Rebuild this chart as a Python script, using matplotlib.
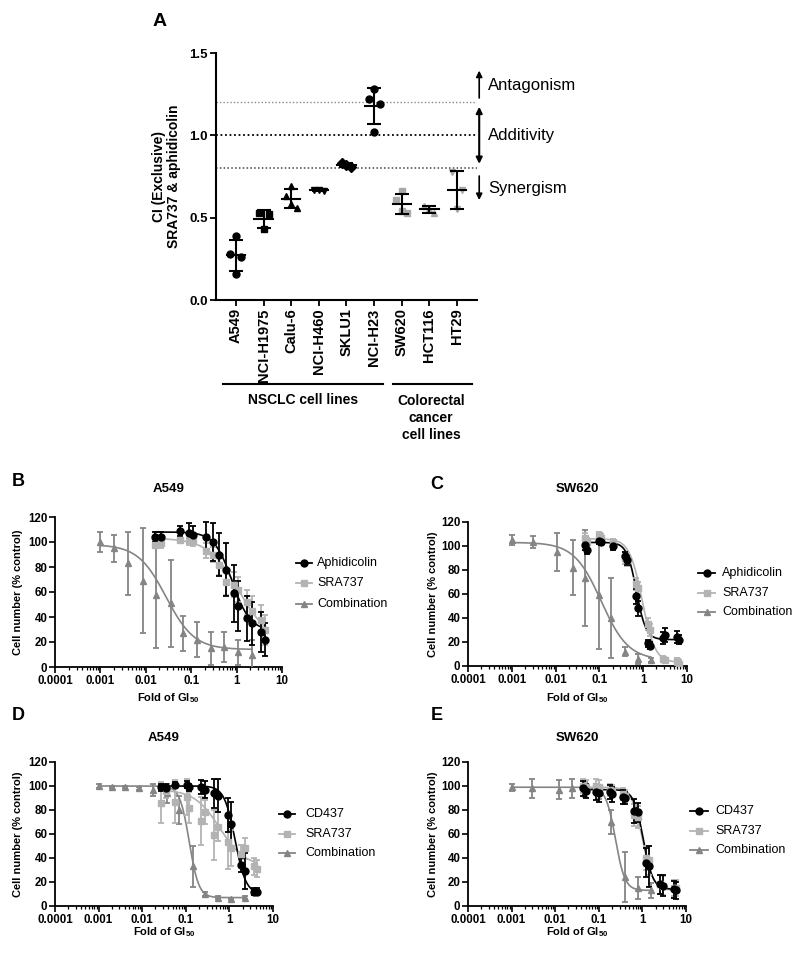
import numpy as np
import matplotlib
matplotlib.use('Agg')
import matplotlib.pyplot as plt
from matplotlib.lines import Line2D
from matplotlib.ticker import LogLocator, FixedLocator, NullFormatter, FixedFormatter

plt.rcParams['font.family'] = ['Liberation Sans', 'DejaVu Sans']
plt.rcParams['mathtext.fontset'] = 'custom'
plt.rcParams['mathtext.rm'] = 'Liberation Sans:bold'
plt.rcParams['mathtext.default'] = 'rm'

# ---------------- Panel A data ----------------
cell_lines = ['A549', 'NCI-H1975', 'Calu-6', 'NCI-H460', 'SKLU1', 'NCI-H23',
              'SW620', 'HCT116', 'HT29']
ci_a549 = [0.39, 0.28, 0.26, 0.16]
ci_h1975 = [0.53, 0.52, 0.43]
ci_calu6 = [0.69, 0.63, 0.56, 0.58]
ci_h460 = [0.67, 0.66, 0.67]
ci_sklu1 = [0.83, 0.81, 0.82]
ci_h23 = [1.28, 1.22, 1.19, 1.02]
ci_sw620 = [0.66, 0.61, 0.53, 0.54]
ci_hct116 = [0.57, 0.53, 0.55]
ci_ht29 = [0.78, 0.67, 0.55]
ci_values = [ci_a549, ci_h1975, ci_calu6, ci_h460, ci_sklu1, ci_h23,
             ci_sw620, ci_hct116, ci_ht29]
ci_thresholds = [0.8, 1.0, 1.2]

# ---------------- Panel B (A549, aphidicolin) ----------------
b_x = [0.016, 0.022, 0.057, 0.09, 0.109, 0.214, 0.296, 0.42, 0.58, 0.86, 1.05, 1.69, 2.22, 3.44, 4.29]
b_aph_y = [104, 104, 109, 107, 106, 104, 100, 90, 78, 59, 49, 39, 35, 28, 22]
b_aph_e = [4, 4, 4, 8, 7, 12, 15, 17, 21, 23, 20, 18, 17, 16, 13]
b_sra_y = [98, 99, 102, 102, 101, 93, 90, 82, 68, 66, 62, 52, 45, 38, 30]
b_sra_e = [3, 4, 3, 4, 4, 6, 6, 8, 10, 10, 10, 10, 12, 12, 12]
b_comb_x = [0.001, 0.002, 0.004, 0.0087, 0.017, 0.035, 0.066, 0.135, 0.27, 0.54, 1.1, 2.2]
b_comb_y = [100, 95, 83, 69, 58, 51, 27, 22, 15, 16, 12, 10]
b_comb_e = [8, 11, 25, 42, 43, 35, 14, 14, 13, 12, 10, 12]
b_fit_aph = [108, 29, 0.8, 2.2]
b_fit_sra = [103, 20, 1.1, 1.3]
b_fit_comb = [98, 14, 0.028, 1.4]

# ---------------- Panel C (SW620, aphidicolin) ----------------
c_x = [0.047, 0.053, 0.1, 0.107, 0.2, 0.39, 0.43, 0.70, 0.75, 1.3, 1.45, 2.9, 3.2, 6.0, 6.5]
c_aph_y = [101, 97, 104, 103, 100, 92, 88, 58, 48, 19, 17, 23, 26, 24, 22]
c_aph_e = [4, 4, 2, 2, 3, 3, 4, 6, 6, 3, 3, 5, 6, 5, 4]
c_sra_y = [107, 103, 109, 107, 103, 90, 88, 68, 65, 35, 30, 6, 5, 4, 2]
c_sra_e = [4, 4, 3, 3, 3, 5, 5, 5, 5, 5, 5, 2, 2, 3, 3]
c_comb_x = [0.001, 0.003, 0.011, 0.025, 0.047, 0.1, 0.18, 0.39, 0.76, 1.5]
c_comb_y = [105, 103, 95, 82, 73, 59, 40, 12, 6, 5]
c_comb_e = [4, 5, 16, 23, 40, 45, 33, 4, 4, 2]
c_fit_aph = [103, 22, 0.7, 4.0]
c_fit_sra = [106, 3, 0.95, 3.0]
c_fit_comb = [103, 5, 0.11, 1.4]

# ---------------- Panel D (A549, CD437) ----------------
d_x = [0.027, 0.035, 0.056, 0.105, 0.118, 0.22, 0.27, 0.45, 0.55, 0.92, 1.1, 1.87, 2.3, 3.6, 4.2]
d_cd_y = [99, 98, 101, 101, 99, 99, 97, 94, 92, 76, 68, 34, 29, 12, 12]
d_cd_e = [3, 4, 2, 3, 3, 6, 7, 12, 14, 14, 19, 6, 15, 3, 3]
d_sra_y = [86, 96, 87, 91, 82, 71, 78, 59, 66, 53, 48, 43, 48, 33, 31]
d_sra_e = [17, 6, 18, 15, 13, 20, 10, 21, 12, 22, 15, 8, 9, 7, 7]
d_comb_x = [0.001, 0.002, 0.004, 0.0085, 0.018, 0.037, 0.07, 0.145, 0.28, 0.55, 1.1, 2.3]
d_comb_y = [100, 99, 99, 98, 97, 94, 80, 33, 10, 7, 6, 7]
d_comb_e = [2, 1, 1, 1, 5, 8, 12, 17, 2, 1, 1, 1]
d_fit_cd = [100, 10, 1.35, 3.5]
d_fit_sra = [97, 33, 0.6, 1.5]
d_fit_comb = [100, 7, 0.12, 4.0]

# ---------------- Panel E (SW620, CD437) ----------------
e_x = [0.044, 0.05, 0.087, 0.1, 0.18, 0.2, 0.35, 0.39, 0.65, 0.8, 1.2, 1.4, 2.6, 2.9, 5.4, 5.9]
e_cd_y = [98, 96, 95, 94, 95, 93, 91, 90, 79, 78, 36, 33, 18, 17, 14, 13]
e_cd_e = [6, 6, 7, 7, 6, 6, 6, 5, 10, 8, 12, 17, 8, 9, 7, 7]
e_sra_y = [100, 99, 100, 99, 97, 96, 93, 92, 76, 74, 40, 38, 18, 17, 15, 15]
e_sra_e = [6, 6, 6, 6, 5, 5, 5, 5, 9, 9, 10, 12, 8, 8, 7, 7]
e_comb_x = [0.001, 0.003, 0.012, 0.024, 0.049, 0.1, 0.19, 0.4, 0.8, 1.6]
e_comb_y = [99, 98, 97, 98, 97, 95, 70, 24, 15, 13]
e_comb_e = [3, 8, 8, 8, 6, 6, 10, 21, 9, 6]
e_fit_cd = [97, 14, 1.05, 4.0]
e_fit_sra = [99, 13, 1.0, 3.5]
e_fit_comb = [99, 13, 0.24, 4.0]

x_tick_vals = [1e-4, 1e-3, 1e-2, 1e-1, 1, 10]
x_tick_labels = ['0.0001', '0.001', '0.01', '0.1', '1', '10']
y_tick_vals = [0, 20, 40, 60, 80, 100, 120]

BLACK = '#000000'
LIGHT = '#b3b3b3'
MID = '#858585'
GRAYA = '#a9a9a9'

W, H = 800, 957
fig = plt.figure(figsize=(W / 100, H / 100), dpi=100)


def rect(l, r, t, b):
    return [l / W, 1 - b / H, (r - l) / W, (b - t) / H]


def fx(px):
    return px / W


def fy(py):
    return 1 - py / H


# ================= Panel A =================
axA = fig.add_axes(rect(216, 477, 53, 300))
n = len(cell_lines)
pos = np.arange(n)
offsets = {4: [0.0, -0.2, 0.2, 0.0], 3: [-0.18, 0.18, 0.0]}
markers = ['o', 's', '^', 'v', 'D', 'o', 's', '^', 'v']
for i, vals in enumerate(ci_values):
    col = BLACK if i < 6 else GRAYA
    vals = np.array(vals)
    off = np.array(offsets[len(vals)])
    axA.plot(pos[i] + off, vals, ls='none', marker=markers[i], color=col,
             ms=5, zorder=3)
    m = vals.mean()
    s = vals.std(ddof=1)
    axA.plot([pos[i] - 0.33, pos[i] + 0.33], [m, m], color='k', lw=1.5, zorder=4)
    axA.errorbar([pos[i]], [m], yerr=[s], fmt='none', ecolor='k',
                 elinewidth=1.5, capsize=5, capthick=1.5, zorder=4)

axA.axhline(ci_thresholds[2], color='#8a8a8a', ls=(0, (1, 1.5)), lw=1.0, zorder=1)
axA.axhline(ci_thresholds[1], color='k', ls=(0, (1, 1.5)), lw=1.3, zorder=1)
axA.axhline(ci_thresholds[0], color='#444444', ls=(0, (1, 1.5)), lw=1.1, zorder=1)

axA.set_xlim(-0.72, 8.72)
axA.set_ylim(0, 1.5)
axA.set_yticks([0, 0.5, 1.0, 1.5])
axA.set_yticklabels(['0.0', '0.5', '1.0', '1.5'], fontsize=9.5, fontweight='bold')
axA.set_xticks(pos)
axA.set_xticklabels(cell_lines, rotation=90, fontsize=10.5, fontweight='bold')
for sp in ['top', 'right']:
    axA.spines[sp].set_visible(False)
for sp in ['left', 'bottom']:
    axA.spines[sp].set_linewidth(1.5)
axA.tick_params(direction='out', length=4, width=1.3, pad=2)
axA.set_ylabel('CI (Exclusive)\nSRA737 & aphidicolin', fontsize=10,
               fontweight='bold', labelpad=6, linespacing=1.1)

# arrows and region labels
arrow_x = 8.8
axA.annotate('', xy=(arrow_x, 1.41), xytext=(arrow_x, 1.21),
             arrowprops=dict(arrowstyle='-|>', color='k', lw=1.2, mutation_scale=9),
             annotation_clip=False)
axA.annotate('', xy=(arrow_x, 0.81), xytext=(arrow_x, 1.19),
             arrowprops=dict(arrowstyle='<|-|>', color='k', lw=1.5, mutation_scale=9),
             annotation_clip=False)
axA.annotate('', xy=(arrow_x, 0.59), xytext=(arrow_x, 0.77),
             arrowprops=dict(arrowstyle='-|>', color='k', lw=1.2, mutation_scale=9),
             annotation_clip=False)
axA.text(9.13, 1.30, 'Antagonism', fontsize=12, va='center', ha='left', clip_on=False)
axA.text(9.1, 1.0, 'Additivity', fontsize=12, va='center', ha='left', clip_on=False)
axA.text(9.13, 0.675, 'Synergism', fontsize=12, va='center', ha='left', clip_on=False)

# group brackets
fig.add_artist(Line2D([fx(223), fx(383)], [fy(384), fy(384)], color='k', lw=1.5,
                      transform=fig.transFigure))
fig.add_artist(Line2D([fx(393), fx(472)], [fy(384), fy(384)], color='k', lw=1.5,
                      transform=fig.transFigure))
fig.text(fx(303), fy(400), 'NSCLC cell lines', ha='center', va='center',
         fontsize=10, fontweight='bold')
fig.text(fx(431), fy(418), 'Colorectal\ncancer\ncell lines', ha='center', va='center',
         fontsize=10, fontweight='bold', linespacing=1.25)
fig.text(fx(160), fy(22), 'A', ha='center', va='center', fontsize=14, fontweight='bold')


# ================= Dose-response panels =================
def fit_curve(x, p):
    top, bot, ec, h = p
    xs = np.logspace(np.log10(min(x)), np.log10(max(x)), 300)
    return xs, bot + (top - bot) / (1 + (xs / ec) ** h)


def dose_panel(box, series, title, title_y, ylabel_x, xlabel_y):
    ax = fig.add_axes(rect(*box))
    for x, y, e, p, col, mk, ms in series:
        xs, ys = fit_curve(x, p)
        ax.plot(xs, ys, color=col, lw=1.2, zorder=2)
        ax.errorbar(x, y, yerr=e, fmt=mk, color=col, ecolor=col, ms=ms,
                    capsize=2.5, elinewidth=1.3, capthick=1.3, zorder=3)
    ax.set_xscale('log')
    ax.set_xlim(1e-4, 10)
    ax.set_ylim(0, 120)
    ax.xaxis.set_major_locator(FixedLocator(x_tick_vals))
    ax.xaxis.set_major_formatter(FixedFormatter(x_tick_labels))
    ax.xaxis.set_minor_locator(LogLocator(base=10, subs=np.arange(2, 10), numticks=20))
    ax.xaxis.set_minor_formatter(NullFormatter())
    ax.set_yticks(y_tick_vals)
    for lab in ax.get_xticklabels() + ax.get_yticklabels():
        lab.set_fontweight('bold')
        lab.set_fontsize(8.3)
    for sp in ['top', 'right']:
        ax.spines[sp].set_visible(False)
    for sp in ['left', 'bottom']:
        ax.spines[sp].set_linewidth(1.3)
    ax.tick_params(which='major', direction='out', length=4, width=1.2, pad=1.5)
    ax.tick_params(which='minor', direction='out', length=2.2, width=0.9)
    l, r, t, b = box
    fig.text(fx((l + r) / 2), fy(title_y), title, ha='center', va='center',
             fontsize=9.5, fontweight='bold')
    fig.text(fx(ylabel_x), fy((t + b) / 2), 'Cell number (% control)', rotation=90,
             ha='center', va='center', fontsize=8, fontweight='bold')
    fig.text(fx((l + r) / 2), fy(xlabel_y), 'Fold of GI$_{50}$', ha='center',
             va='top', fontsize=8, fontweight='bold')
    return ax


def legend(line_x0, line_x1, text_x, ys, entries):
    for (label, col, mk, ms), y in zip(entries, ys):
        fig.add_artist(Line2D([fx(line_x0), fx(line_x1)], [fy(y), fy(y)], color=col,
                              lw=1.3, transform=fig.transFigure))
        fig.add_artist(Line2D([fx((line_x0 + line_x1) / 2)], [fy(y)], color=col,
                              marker=mk, ms=ms, ls='none', transform=fig.transFigure))
        fig.text(fx(text_x), fy(y), label, ha='left', va='center', fontsize=9)


# B
dose_panel((55, 282, 517, 667),
           [(b_comb_x, b_comb_y, b_comb_e, b_fit_comb, MID, '^', 4),
            (b_x, b_sra_y, b_sra_e, b_fit_sra, LIGHT, 's', 4.5),
            (b_x, b_aph_y, b_aph_e, b_fit_aph, BLACK, 'o', 5)],
           'A549', 489, 18, 691)
legend(296, 312, 317, [563, 583, 604],
       [('Aphidicolin', BLACK, 'o', 5), ('SRA737', LIGHT, 's', 4.5),
        ('Combination', MID, '^', 4)])
fig.text(fx(18), fy(482), 'B', ha='center', va='center', fontsize=13, fontweight='bold')

# C
dose_panel((468, 687, 522, 666),
           [(c_comb_x, c_comb_y, c_comb_e, c_fit_comb, MID, '^', 4),
            (c_x, c_sra_y, c_sra_e, c_fit_sra, LIGHT, 's', 4.5),
            (c_x, c_aph_y, c_aph_e, c_fit_aph, BLACK, 'o', 5)],
           'SW620', 489, 433, 691)
legend(698, 715, 722, [573, 593, 612],
       [('Aphidicolin', BLACK, 'o', 5), ('SRA737', LIGHT, 's', 4.5),
        ('Combination', MID, '^', 4)])
fig.text(fx(437), fy(484), 'C', ha='center', va='center', fontsize=13, fontweight='bold')

# D
dose_panel((55, 273, 762, 906),
           [(d_comb_x, d_comb_y, d_comb_e, d_fit_comb, MID, '^', 4),
            (d_x, d_sra_y, d_sra_e, d_fit_sra, LIGHT, 's', 4.5),
            (d_x, d_cd_y, d_cd_e, d_fit_cd, BLACK, 'o', 5)],
           'A549', 738, 18, 925)
legend(279, 295, 305, [814, 834, 853],
       [('CD437', BLACK, 'o', 5), ('SRA737', LIGHT, 's', 4.5),
        ('Combination', MID, '^', 4)])
fig.text(fx(18), fy(716), 'D', ha='center', va='center', fontsize=13, fontweight='bold')

# E
dose_panel((468, 686, 762, 906),
           [(e_comb_x, e_comb_y, e_comb_e, e_fit_comb, MID, '^', 4),
            (e_x, e_sra_y, e_sra_e, e_fit_sra, LIGHT, 's', 4.5),
            (e_x, e_cd_y, e_cd_e, e_fit_cd, BLACK, 'o', 5)],
           'SW620', 738, 433, 925)
legend(690, 708, 715, [811, 831, 850],
       [('CD437', BLACK, 'o', 5), ('SRA737', LIGHT, 's', 4.5),
        ('Combination', MID, '^', 4)])
fig.text(fx(437), fy(716), 'E', ha='center', va='center', fontsize=13, fontweight='bold')

fig.savefig('out.png', dpi=100)
